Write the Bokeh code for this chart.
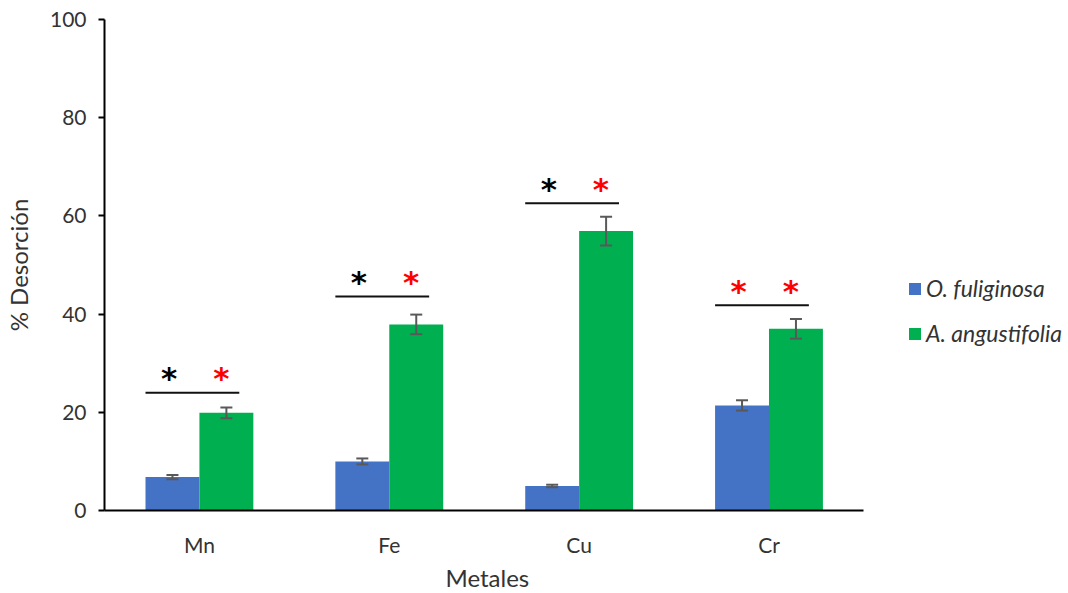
from bokeh.plotting import figure
from bokeh.models import (ColumnDataSource, Range1d, FixedTicker, Whisker,
                          Legend, LegendItem, Title)
from bokeh.core.properties import value
from bokeh.embed import file_html
from bokeh.resources import INLINE

# ---- data ----
metals = ["Mn", "Fe", "Cu", "Cr"]
o_fuliginosa = [6.8, 10.0, 5.0, 21.4]
o_fuliginosa_err = [0.45, 0.6, 0.25, 1.05]
a_angustifolia = [19.9, 37.9, 56.9, 37.0]
a_angustifolia_err = [1.1, 2.0, 2.95, 2.0]
sig_height = [24.0, 43.6, 62.6, 41.8]
sig_left_color = ["black", "black", "black", "red"]
sig_right_color = ["red", "red", "red", "red"]
y_ticks = [0, 20, 40, 60, 80, 100]

BLUE = "#4472C4"
GREEN = "#00B050"
FONT = "Lato"
TXT = "#333333"
BW = 0.284

W, H = 1068, 593
LEFT, RIGHT_AXIS_END = 102, 863
n = len(metals)
centers = [i + 0.5 for i in range(n)]
x_end = n * (W - LEFT) / (RIGHT_AXIS_END - LEFT)

p = figure(width=W, height=H, output_backend="svg", toolbar_location=None,
           x_range=Range1d(0, x_end), y_range=Range1d(0, 100),
           min_border_left=LEFT, min_border_right=0, min_border_top=19,
           min_border_bottom=83)
p.outline_line_color = None
p.xgrid.grid_line_color = None
p.ygrid.grid_line_color = None
p.background_fill_color = "white"
p.border_fill_color = "white"

src_b = ColumnDataSource(dict(
    x=[c - BW / 2 for c in centers], top=o_fuliginosa,
    upper=[v + e for v, e in zip(o_fuliginosa, o_fuliginosa_err)],
    lower=[v - e for v, e in zip(o_fuliginosa, o_fuliginosa_err)]))
src_g = ColumnDataSource(dict(
    x=[c + BW / 2 for c in centers], top=a_angustifolia,
    upper=[v + e for v, e in zip(a_angustifolia, a_angustifolia_err)],
    lower=[v - e for v, e in zip(a_angustifolia, a_angustifolia_err)]))

rb = p.vbar(x="x", top="top", width=BW, bottom=0, source=src_b,
            fill_color=BLUE, line_color=None)
rg = p.vbar(x="x", top="top", width=BW, bottom=0, source=src_g,
            fill_color=GREEN, line_color=None)

for src in (src_b, src_g):
    w = Whisker(base="x", upper="upper", lower="lower", source=src,
                line_color="#595959", line_width=2, level="overlay")
    for head in (w.upper_head, w.lower_head):
        head.size = 12
        head.line_color = "#595959"
        head.line_width = 2
    p.add_layout(w)

# significance bars
sig_src = ColumnDataSource(dict(
    x0=[c - BW for c in centers], x1=[c + 0.21 for c in centers], y=sig_height))
p.segment(x0="x0", y0="y", x1="x1", y1="y", source=sig_src,
          line_color="#111111", line_width=2)

ast_src = ColumnDataSource(dict(
    xl=[c - 0.16 for c in centers], xr=[c + 0.115 for c in centers],
    y=[h + 3.7 for h in sig_height], cl=sig_left_color, cr=sig_right_color))
for xf, cf in (("xl", "cl"), ("xr", "cr")):
    p.text(x=xf, y="y", text=value("*"), source=ast_src, text_color=cf,
           text_font=value("DejaVu Sans"), text_font_size="31px",
           text_font_style="bold",
           text_align="center", text_baseline="middle", y_offset=4)

# axes
for ax in (p.xaxis, p.yaxis):
    ax.axis_line_color = "black"
    ax.axis_line_width = 2
    ax.major_label_text_font = FONT
    ax.major_label_text_font_size = "21px"
    ax.major_label_text_color = TXT
    ax.axis_label_text_font = FONT
    ax.axis_label_text_font_size = "24px"
    ax.axis_label_text_font_style = "normal"
    ax.axis_label_text_color = TXT
    ax.minor_tick_line_color = None

p.xaxis.bounds = (0, n)
p.xaxis.ticker = FixedTicker(ticks=centers)
p.xaxis.major_label_overrides = {c: m for c, m in zip(centers, metals)}
p.xaxis.major_tick_line_color = None
p.xaxis.major_label_standoff = 15

# x-axis title, centred under the axis span (the frame extends under the legend)
xt = Title(text="Metales", align="left", offset=341, standoff=2,
           text_font=FONT, text_font_size="24px", text_font_style="normal",
           text_color=TXT)
p.add_layout(xt, "below")

p.yaxis.ticker = FixedTicker(ticks=y_ticks)
p.yaxis.major_tick_line_color = "black"
p.yaxis.major_tick_line_width = 2
p.yaxis.major_tick_out = 6
p.yaxis.major_tick_in = 0
p.yaxis.major_label_standoff = 12
p.yaxis.axis_label = "% Desorción"
p.yaxis.axis_label_standoff = 14

legend = Legend(items=[LegendItem(label="O. fuliginosa", renderers=[rb]),
                       LegendItem(label="A. angustifolia", renderers=[rg])],
                location=(803, 163))
legend.label_text_font = FONT
legend.label_text_font_style = "italic"
legend.label_text_font_size = "23px"
legend.label_text_color = TXT
legend.glyph_width = 15
legend.glyph_height = 15
legend.label_standoff = 4
legend.spacing = 17
legend.padding = 0
legend.margin = 0
legend.border_line_color = None
legend.background_fill_alpha = 0
p.add_layout(legend, "center")

open("out.html", "w").write(file_html(p, INLINE))
